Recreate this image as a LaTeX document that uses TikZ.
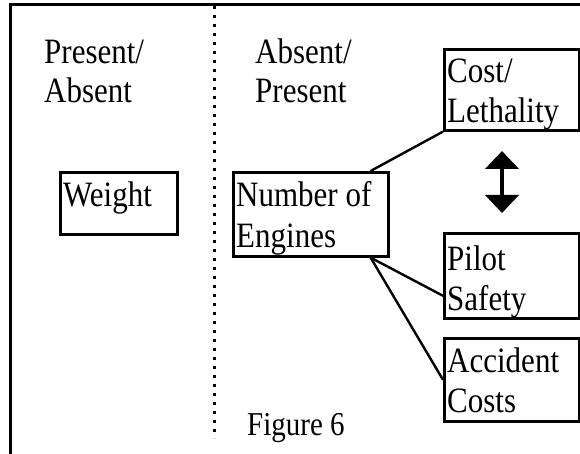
\documentclass[tikz,border=0pt]{standalone}
\usepackage{graphicx}
\usepackage{fontspec}
\setmainfont{Liberation Serif}
\usetikzlibrary{arrows.meta}
\newcommand{\tallword}[1]{\scalebox{1}[1.15]{#1}}
\begin{document}
\begin{tikzpicture}[x=1pt,y=-1pt,
  boxnode/.style={draw, line width=2.6pt, inner sep=0pt, anchor=north west},
  lbl/.style={inner sep=0pt, anchor=base west, font=\fontsize{31}{40}\selectfont},
  caplbl/.style={inner sep=0pt, anchor=base west, font=\fontsize{29}{36}\selectfont},
  link/.style={line width=2.4pt},
  frameline/.style={line width=3pt},
  divider/.style={line width=3pt, dash pattern=on 3pt off 6pt},
  twoway/.style={line width=4.5pt, {Triangle[width=33pt,length=18pt]}-{Triangle[width=33pt,length=18pt]}}
  ]
\useasboundingbox (0,0) rectangle (580,454);
% frame
\coordinate (ftl) at (10,5);
\coordinate (ftr) at (581,5);
\coordinate (fbl) at (10,455);
\draw[frameline] (ftr) -- (ftl) -- (fbl);
% divider
\coordinate (dtop) at (214,6);
\coordinate (dbot) at (214,438);
\draw[divider] (dtop) -- (dbot);
% headings
\node[lbl] (h1a) at (44,64) {\tallword{Present/}};
\node[lbl] (h1b) at (44,103) {\tallword{Absent}};
\node[lbl] (h2a) at (255,64) {\tallword{Absent/}};
\node[lbl] (h2b) at (255,103) {\tallword{Present}};
% boxes
\node[boxnode, minimum width=117pt, minimum height=62pt] (weight) at (59,171) {};
\node[boxnode, minimum width=155pt, minimum height=84pt] (engines) at (232,171) {};
\node[boxnode, minimum width=135pt, minimum height=81pt] (cost) at (443,48) {};
\node[boxnode, minimum width=135pt, minimum height=85pt] (pilot) at (443,232) {};
\node[boxnode, minimum width=135pt, minimum height=83pt] (accident) at (443,337) {};
% texts (clipped to their boxes)
\node[lbl] (tweight) at (63,207) {\tallword{Weight}};
\begin{scope}
\clip (engines.south west) rectangle (engines.north east);
\node[lbl] (teng1) at (236,207) {\tallword{Number of}};
\node[lbl] (teng2) at (236,247) {\tallword{Engines}};
\end{scope}
\begin{scope}
\clip (cost.south west) rectangle (cost.north east);
\node[lbl] (tcost1) at (447,83) {\tallword{Cost/}};
\node[lbl] (tcost2) at (447,123) {\tallword{Lethality}};
\end{scope}
\begin{scope}
\clip (pilot.south west) rectangle (pilot.north east);
\node[lbl] (tpil1) at (447,270) {\tallword{Pilot}};
\node[lbl] (tpil2) at (447,310) {\tallword{Safety}};
\end{scope}
\begin{scope}
\clip (accident.south west) rectangle (accident.north east);
\node[lbl] (tacc1) at (447,372) {\tallword{Accident}};
\node[lbl] (tacc2) at (447,412) {\tallword{Costs}};
\end{scope}
% connectors
\draw[link] ([xshift=-19pt]engines.north east) -- (cost.south west);
\draw[link] ([xshift=-19pt]engines.south east) -- ([yshift=-20pt]pilot.west);
\draw[link] ([xshift=-19pt]engines.south east) -- (accident.west);
% two-way arrow
\coordinate (atop) at (502,151);
\coordinate (abot) at (502,213);
\draw[twoway] (atop) -- (abot);
% caption
\node[caplbl] (fig) at (247,435) {\tallword{Figure 6}};
\end{tikzpicture}
\end{document}
